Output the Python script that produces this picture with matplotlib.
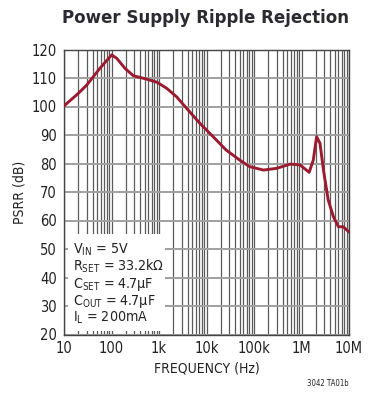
import matplotlib
matplotlib.use('Agg')
import matplotlib.pyplot as plt
from matplotlib.font_manager import fontManager
from matplotlib.patches import Rectangle
from matplotlib.ticker import LogLocator, NullLocator

# PSRR curve
freq_hz = [10, 20, 30, 57, 80, 101, 129, 192, 288, 550, 910, 1450, 2350, 3800,
           7260, 13800, 26000, 50000, 81000, 158000, 300000, 580000, 930000,
           1450000, 1770000, 2080000, 2450000, 2900000, 3650000, 4700000,
           6000000, 7600000, 9800000]
psrr_db = [100.2, 104.6, 107.5, 113.4, 116.2, 118.1, 116.9, 113.4, 110.8, 109.6,
           108.5, 106.4, 103.4, 99.4, 94.1, 89.4, 84.7, 81.2, 78.9, 77.7, 78.3,
           79.8, 79.5, 76.9, 81.2, 89.4, 87.1, 77.7, 67.2, 61.3, 57.8, 57.8, 56.1]

xticks = [10, 100, 1e3, 1e4, 1e5, 1e6, 1e7]
xticklabels = ['10', '100', '1k', '10k', '100k', '1M', '10M']
yticks = list(range(20, 121, 10))

conditions = [r'V$_{\mathrm{IN}}$ = 5V',
              r'R$_{\mathrm{SET}}$ = 33.2k$\Omega$',
              r'C$_{\mathrm{SET}}$ = 4.7$\mu$F',
              r'C$_{\mathrm{OUT}}$ = 4.7$\mu$F',
              r'I$_{\mathrm{L}}$ = 200mA']

# the original uses a condensed face; take DejaVu Sans Condensed if present
has_cond = any(f.name == 'DejaVu Sans' and f.stretch in ('condensed', 'semi-condensed')
               for f in fontManager.ttflist)
if has_cond:
    plt.rcParams['font.family'] = ['DejaVu Sans']
    plt.rcParams['font.stretch'] = 'condensed'
    plt.rcParams['mathtext.fontset'] = 'custom'
    plt.rcParams['mathtext.rm'] = 'DejaVu Sans:stretch=condensed'
    plt.rcParams['mathtext.it'] = 'DejaVu Sans:stretch=condensed'
    scale = 1.0
else:
    plt.rcParams['font.family'] = ['Liberation Sans', 'DejaVu Sans']
    plt.rcParams['mathtext.fontset'] = 'custom'
    plt.rcParams['mathtext.rm'] = 'Liberation Sans'
    plt.rcParams['mathtext.it'] = 'Liberation Sans'
    scale = 0.85

fig = plt.figure(figsize=(3.8, 4.03), dpi=100)
ax = fig.add_axes([64 / 380, 1 - 334.5 / 403, 285 / 380, 285 / 403])

ax.plot(freq_hz, psrr_db, color='#9b1b30', lw=2.1, zorder=5)

ax.set_xscale('log')
ax.set_xlim(10, 1e7)
ax.set_ylim(20, 120)
ax.set_xticks(xticks)
ax.set_xticklabels(xticklabels)
ax.xaxis.set_minor_locator(LogLocator(base=10, subs=range(2, 10), numticks=100))
ax.yaxis.set_minor_locator(NullLocator())
ax.set_yticks(yticks)
ax.tick_params(which='both', length=0, labelsize=10.5 * scale, colors='#222222', pad=5)

ax.grid(True, which='both', axis='x', color='#5a5a5a', lw=0.9)
ax.grid(True, which='major', axis='y', color='#a0a0a0', lw=1.4)
ax.set_axisbelow(True)
for s in ax.spines.values():
    s.set_color('#444444')
    s.set_linewidth(1.0)

# white box for the test conditions
ax.add_patch(Rectangle((0.014, 0.014), 0.34, 0.34, transform=ax.transAxes,
                       facecolor='white', edgecolor='none', zorder=3))
baselines = [254, 271, 288, 305, 322]
for txt, yb in zip(conditions, baselines):
    fig.text(73 / 380, 1 - yb / 403, txt, fontsize=10.2 * scale, color='#222222',
             ha='left', va='baseline', zorder=6)

ax.set_xlabel('FREQUENCY (Hz)', fontsize=10 * scale, color='#222222', labelpad=4)
ax.set_ylabel('PSRR (dB)', fontsize=10 * scale, color='#222222', labelpad=4)

fig.text(205 / 380, 1 - 18 / 403, 'Power Supply Ripple Rejection',
         fontsize=13.3 * scale,
         fontweight='bold', color='#2a2a30', ha='center', va='center')
fig.text(349 / 380, 1 - 383 / 403, '3042 TA01b', fontsize=5.6, color='#222222',
         ha='right', va='center')

fig.savefig('out.png', dpi=100)
